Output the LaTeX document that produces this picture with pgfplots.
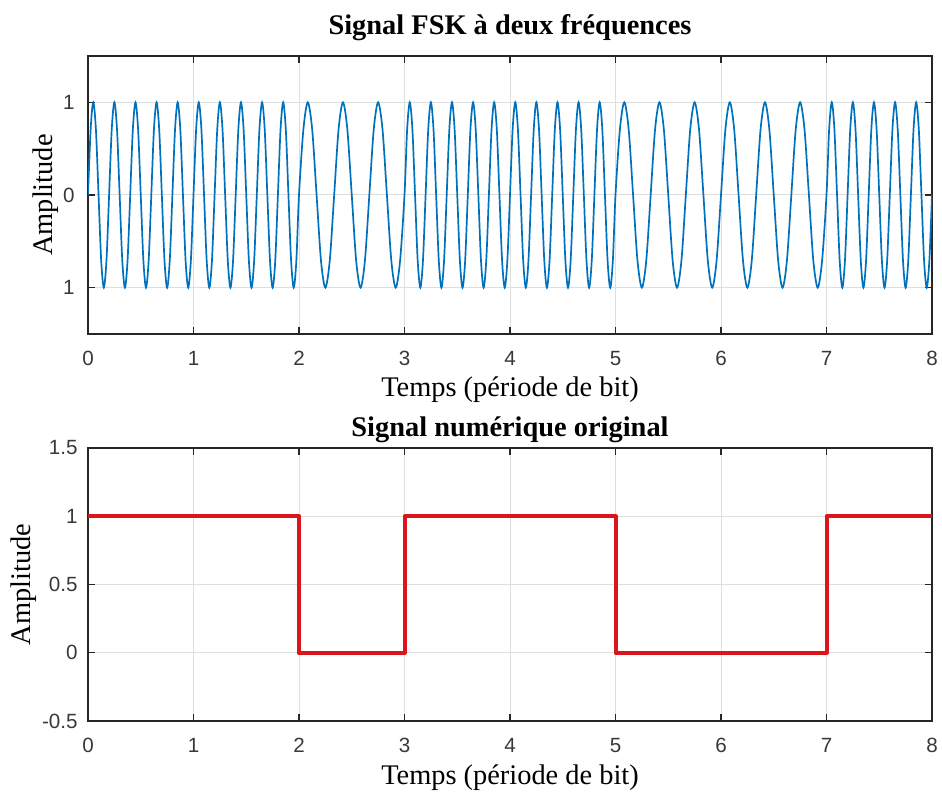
\documentclass[border=0pt]{standalone}
\usepackage{fontspec}
\setmainfont{Liberation Serif}
\newfontfamily\arial{Liberation Sans}
\usepackage{pgfplots}
\pgfplotsset{compat=1.18}
\definecolor{mblue}{RGB}{0,114,189}
\definecolor{mred}{RGB}{218,22,28}
\definecolor{axgray}{RGB}{38,38,38}
\definecolor{gridgray}{RGB}{222,222,222}
\pgfplotsset{mstyle/.style={
  scale only axis, width=422pt, xmin=0, xmax=8,
  xtick={0,1,2,3,4,5,6,7,8}, xticklabels={0,1,2,3,4,5,6,7,8},
  axis line style={axgray, line width=0.7pt},
  tick style={axgray, line width=0.6pt},
  major tick length=3.5pt,
  tick align=inside, xtick pos=both, ytick pos=both,
  grid=major, major grid style={gridgray, line width=0.5pt},
  tick label style={font=\fontsize{10.3}{12}\arial, text=black!78, inner sep=0pt},
  label style={font=\fontsize{14.2}{16}\selectfont, inner sep=0pt},
  every axis title shift=0pt,
  title style={font=\fontsize{14.2}{16}\selectfont\bfseries, inner sep=0pt, anchor=base},
  xticklabel style={yshift=-8.5pt},
}}
\begin{document}
\begin{tikzpicture}
\begin{axis}[mstyle, name=top, at={(0,0)}, anchor=south west,
  height=139pt, ymin=-1.5, ymax=1.5,
  ytick={-1,0,1}, yticklabels={1,0,1},
  title={Signal FSK à deux fréquences},
  title style={at={(axis description cs:0.5,1.0755)}},
  xlabel={Temps (période de bit)},
  xlabel style={at={(axis description cs:0.5,-0.2266)}, anchor=base},
  ylabel={Amplitude},
  ylabel style={at={(axis description cs:-0.0344,0.5)}, anchor=south},
  yticklabel style={xshift=-6.5pt},
]
\addplot[mblue, line width=0.85pt, smooth] coordinates {
(0,0)
(0.025,0.7071) (0.05,1) (0.075,0.7071) (0.1,0) (0.125,-0.7071) (0.15,-1) (0.175,-0.7071) (0.2,0)
(0.225,0.7071) (0.25,1) (0.275,0.7071) (0.3,0) (0.325,-0.7071) (0.35,-1) (0.375,-0.7071) (0.4,0)
(0.425,0.7071) (0.45,1) (0.475,0.7071) (0.5,0) (0.525,-0.7071) (0.55,-1) (0.575,-0.7071) (0.6,0)
(0.625,0.7071) (0.65,1) (0.675,0.7071) (0.7,0) (0.725,-0.7071) (0.75,-1) (0.775,-0.7071) (0.8,0)
(0.825,0.7071) (0.85,1) (0.875,0.7071) (0.9,0) (0.925,-0.7071) (0.95,-1) (0.975,-0.7071) (1,0)
(1.025,0.7071) (1.05,1) (1.075,0.7071) (1.1,0) (1.125,-0.7071) (1.15,-1) (1.175,-0.7071) (1.2,0)
(1.225,0.7071) (1.25,1) (1.275,0.7071) (1.3,0) (1.325,-0.7071) (1.35,-1) (1.375,-0.7071) (1.4,0)
(1.425,0.7071) (1.45,1) (1.475,0.7071) (1.5,0) (1.525,-0.7071) (1.55,-1) (1.575,-0.7071) (1.6,0)
(1.625,0.7071) (1.65,1) (1.675,0.7071) (1.7,0) (1.725,-0.7071) (1.75,-1) (1.775,-0.7071) (1.8,0)
(1.825,0.7071) (1.85,1) (1.875,0.7071) (1.9,0) (1.925,-0.7071) (1.95,-1) (1.975,-0.7071) (2,0)
(2.04167,0.7071) (2.08333,1) (2.125,0.7071) (2.16667,0) (2.20833,-0.7071) (2.25,-1) (2.29167,-0.7071) (2.33333,0)
(2.375,0.7071) (2.41667,1) (2.45833,0.7071) (2.5,0) (2.54167,-0.7071) (2.58333,-1) (2.625,-0.7071) (2.66667,0)
(2.70833,0.7071) (2.75,1) (2.79167,0.7071) (2.83333,0) (2.875,-0.7071) (2.91667,-1) (2.95833,-0.7071) (3,0)
(3.025,0.7071) (3.05,1) (3.075,0.7071) (3.1,0) (3.125,-0.7071) (3.15,-1) (3.175,-0.7071) (3.2,0)
(3.225,0.7071) (3.25,1) (3.275,0.7071) (3.3,0) (3.325,-0.7071) (3.35,-1) (3.375,-0.7071) (3.4,0)
(3.425,0.7071) (3.45,1) (3.475,0.7071) (3.5,0) (3.525,-0.7071) (3.55,-1) (3.575,-0.7071) (3.6,0)
(3.625,0.7071) (3.65,1) (3.675,0.7071) (3.7,0) (3.725,-0.7071) (3.75,-1) (3.775,-0.7071) (3.8,0)
(3.825,0.7071) (3.85,1) (3.875,0.7071) (3.9,0) (3.925,-0.7071) (3.95,-1) (3.975,-0.7071) (4,0)
(4.025,0.7071) (4.05,1) (4.075,0.7071) (4.1,0) (4.125,-0.7071) (4.15,-1) (4.175,-0.7071) (4.2,0)
(4.225,0.7071) (4.25,1) (4.275,0.7071) (4.3,0) (4.325,-0.7071) (4.35,-1) (4.375,-0.7071) (4.4,0)
(4.425,0.7071) (4.45,1) (4.475,0.7071) (4.5,0) (4.525,-0.7071) (4.55,-1) (4.575,-0.7071) (4.6,0)
(4.625,0.7071) (4.65,1) (4.675,0.7071) (4.7,0) (4.725,-0.7071) (4.75,-1) (4.775,-0.7071) (4.8,0)
(4.825,0.7071) (4.85,1) (4.875,0.7071) (4.9,0) (4.925,-0.7071) (4.95,-1) (4.975,-0.7071) (5,0)
(5.04167,0.7071) (5.08333,1) (5.125,0.7071) (5.16667,0) (5.20833,-0.7071) (5.25,-1) (5.29167,-0.7071) (5.33333,0)
(5.375,0.7071) (5.41667,1) (5.45833,0.7071) (5.5,0) (5.54167,-0.7071) (5.58333,-1) (5.625,-0.7071) (5.66667,0)
(5.70833,0.7071) (5.75,1) (5.79167,0.7071) (5.83333,0) (5.875,-0.7071) (5.91667,-1) (5.95833,-0.7071) (6,0)
(6.04167,0.7071) (6.08333,1) (6.125,0.7071) (6.16667,0) (6.20833,-0.7071) (6.25,-1) (6.29167,-0.7071) (6.33333,0)
(6.375,0.7071) (6.41667,1) (6.45833,0.7071) (6.5,0) (6.54167,-0.7071) (6.58333,-1) (6.625,-0.7071) (6.66667,0)
(6.70833,0.7071) (6.75,1) (6.79167,0.7071) (6.83333,0) (6.875,-0.7071) (6.91667,-1) (6.95833,-0.7071) (7,0)
(7.025,0.7071) (7.05,1) (7.075,0.7071) (7.1,0) (7.125,-0.7071) (7.15,-1) (7.175,-0.7071) (7.2,0)
(7.225,0.7071) (7.25,1) (7.275,0.7071) (7.3,0) (7.325,-0.7071) (7.35,-1) (7.375,-0.7071) (7.4,0)
(7.425,0.7071) (7.45,1) (7.475,0.7071) (7.5,0) (7.525,-0.7071) (7.55,-1) (7.575,-0.7071) (7.6,0)
(7.625,0.7071) (7.65,1) (7.675,0.7071) (7.7,0) (7.725,-0.7071) (7.75,-1) (7.775,-0.7071) (7.8,0)
(7.825,0.7071) (7.85,1) (7.875,0.7071) (7.9,0) (7.925,-0.7071) (7.95,-1) (7.975,-0.7071) (8,0)
};
\end{axis}
\begin{axis}[mstyle, name=bot, at={(0,-57pt)}, anchor=north west,
  height=136.5pt, ymin=-0.5, ymax=1.5,
  ytick={-0.5,0,0.5,1,1.5}, yticklabels={-0.5,0,0.5,1,1.5},
  title={Signal numérique original},
  title style={at={(axis description cs:0.5,1.0403)}},
  xlabel={Temps (période de bit)},
  xlabel style={at={(axis description cs:0.5,-0.2344)}, anchor=base},
  ylabel={Amplitude},
  ylabel style={at={(axis description cs:-0.0604,0.5)}, anchor=south},
  yticklabel style={xshift=-5pt},
]
\addplot[mred, line width=2pt, line join=round] coordinates {
(0,1) (2,1) (2,0) (3,0) (3,1) (5,1) (5,0) (7,0) (7,1) (8,1)
};
\end{axis}
\pgfresetboundingbox
\path[use as bounding box] (-44pt,-230.5pt) rectangle (427pt,167pt);
\end{tikzpicture}
\end{document}
